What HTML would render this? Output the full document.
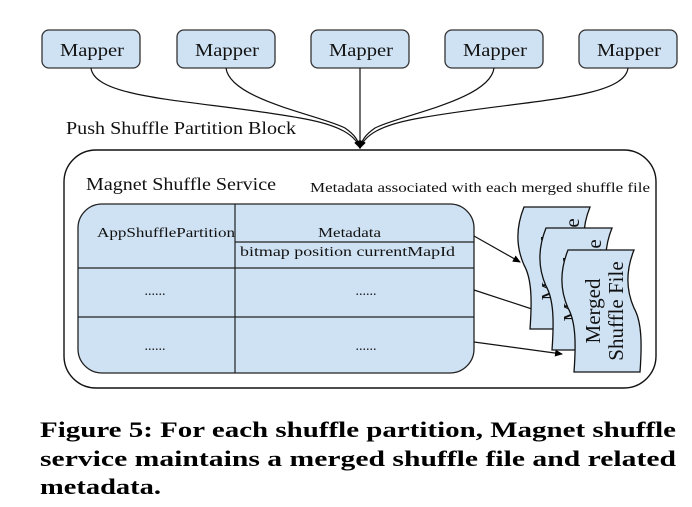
<!DOCTYPE html>
<html><head><meta charset="utf-8"><style>
html,body{margin:0;padding:0;background:#fff;}
svg{display:block;}
.s{font-family:"Liberation Serif","DejaVu Serif",serif;}
</style></head><body>
<svg width="692" height="507" viewBox="0 0 692 507" xmlns="http://www.w3.org/2000/svg">
<defs>
<marker id="ah" markerWidth="8" markerHeight="8" refX="7" refY="4" orient="auto" markerUnits="userSpaceOnUse">
<path d="M0,0.5 L8,4 L0,7.5 Z" fill="#000"/>
</marker>
</defs>
<g fill="#cfe2f3" stroke="#333" stroke-width="1.3">
<rect x="42" y="30" width="98" height="38" rx="7"/>
<rect x="177" y="30" width="98" height="38" rx="7"/>
<rect x="311" y="30" width="98" height="38" rx="7"/>
<rect x="445" y="30" width="98" height="38" rx="7"/>
<rect x="579" y="30" width="98" height="38" rx="7"/>
</g>
<g class="s" font-size="18" fill="#111" lengthAdjust="spacingAndGlyphs">
<text x="60" y="56" textLength="64" lengthAdjust="spacingAndGlyphs">Mapper</text>
<text x="195" y="56" textLength="64" lengthAdjust="spacingAndGlyphs">Mapper</text>
<text x="329" y="56" textLength="64" lengthAdjust="spacingAndGlyphs">Mapper</text>
<text x="463" y="56" textLength="64" lengthAdjust="spacingAndGlyphs">Mapper</text>
<text x="597" y="56" textLength="64" lengthAdjust="spacingAndGlyphs">Mapper</text>
</g>
<g fill="none" stroke="#111" stroke-width="1.2">
<path d="M91,68 C95,100 200,100 300,118 C340,125 355,135 360,148" marker-end="url(#ah)"/>
<path d="M226,68 C230,100 320,115 345,128 C355,135 358,140 360,148" marker-end="url(#ah)"/>
<path d="M360,68 L360,148" marker-end="url(#ah)"/>
<path d="M494,68 C490,100 400,115 375,128 C365,135 362,140 360,148" marker-end="url(#ah)"/>
<path d="M628,68 C624,100 520,100 420,118 C380,125 365,135 360,148" marker-end="url(#ah)"/>
</g>
<text class="s" x="66" y="134" font-size="18" fill="#111" textLength="230" lengthAdjust="spacingAndGlyphs">Push Shuffle Partition Block</text>
<rect x="64" y="150" width="592" height="238" rx="32" fill="none" stroke="#111" stroke-width="1.4"/>
<text class="s" x="86" y="190" font-size="18" fill="#111" textLength="190" lengthAdjust="spacingAndGlyphs">Magnet Shuffle Service</text>
<text class="s" x="310" y="192" font-size="14" fill="#111" textLength="340" lengthAdjust="spacingAndGlyphs">Metadata associated with each merged shuffle file</text>
<rect x="78" y="204" width="396" height="169" rx="24" fill="#cfe2f3" stroke="#222" stroke-width="1.3"/>
<g stroke="#222" stroke-width="1.2">
<line x1="235" y1="204" x2="235" y2="373"/>
<line x1="78" y1="268" x2="474" y2="268"/>
<line x1="78" y1="317" x2="474" y2="317"/>
<line x1="235" y1="242" x2="474" y2="242"/>
</g>
<g class="s" font-size="14" fill="#111">
<text x="97" y="237" textLength="138" lengthAdjust="spacingAndGlyphs">AppShufflePartition</text>
<text x="318" y="237" textLength="63" lengthAdjust="spacingAndGlyphs">Metadata</text>
<text x="240" y="256" textLength="215" lengthAdjust="spacingAndGlyphs">bitmap  position  currentMapId</text>
<text x="155" y="295" text-anchor="middle">......</text>
<text x="366" y="295" text-anchor="middle">......</text>
<text x="155" y="350" text-anchor="middle">......</text>
<text x="366" y="350" text-anchor="middle">......</text>
</g>
<g fill="none" stroke="#111" stroke-width="1.2">
<line x1="474" y1="236" x2="520" y2="262" marker-end="url(#ah)"/>
<line x1="474" y1="290" x2="541" y2="312" marker-end="url(#ah)"/>
<line x1="474" y1="342" x2="562" y2="354" marker-end="url(#ah)"/>
</g>
<g>
<g transform="translate(520,207)">
<path d="M4,0 L70,0 C62,20 62,40 70,58 C78,72 78,95 76,122 L10,122 C12,95 12,72 4,58 C-4,40 -4,20 4,0 Z" fill="#cfe2f3" stroke="#111" stroke-width="1.3"/>
<g class="s" font-size="21" fill="#111" text-anchor="middle" transform="translate(40,61) rotate(-90)"><text x="0" y="-4">Merged</text><text x="0" y="19">Shuffle File</text></g>
</g>
<g transform="translate(542,228)">
<path d="M4,0 L70,0 C62,20 62,40 70,58 C78,72 78,95 76,122 L10,122 C12,95 12,72 4,58 C-4,40 -4,20 4,0 Z" fill="#cfe2f3" stroke="#111" stroke-width="1.3"/>
<g class="s" font-size="21" fill="#111" text-anchor="middle" transform="translate(40,61) rotate(-90)"><text x="0" y="-4">Merged</text><text x="0" y="19">Shuffle File</text></g>
</g>
<g transform="translate(564,250)">
<path d="M4,0 L70,0 C62,20 62,40 70,58 C78,72 78,95 76,122 L10,122 C12,95 12,72 4,58 C-4,40 -4,20 4,0 Z" fill="#cfe2f3" stroke="#111" stroke-width="1.3"/>
<g class="s" font-size="21" fill="#111" text-anchor="middle" transform="translate(40,61) rotate(-90)"><text x="0" y="-4">Merged</text><text x="0" y="19">Shuffle File</text></g>
</g>
</g>
<g class="s" font-size="22" font-weight="bold" fill="#000">
<text x="40" y="437" textLength="636" lengthAdjust="spacingAndGlyphs">Figure 5: For each shuffle partition, Magnet shuffle</text>
<text x="40" y="466" textLength="636" lengthAdjust="spacingAndGlyphs">service maintains a merged shuffle file and related</text>
<text x="40" y="494" textLength="121" lengthAdjust="spacingAndGlyphs">metadata.</text>
</g>
</svg>
</body></html>
